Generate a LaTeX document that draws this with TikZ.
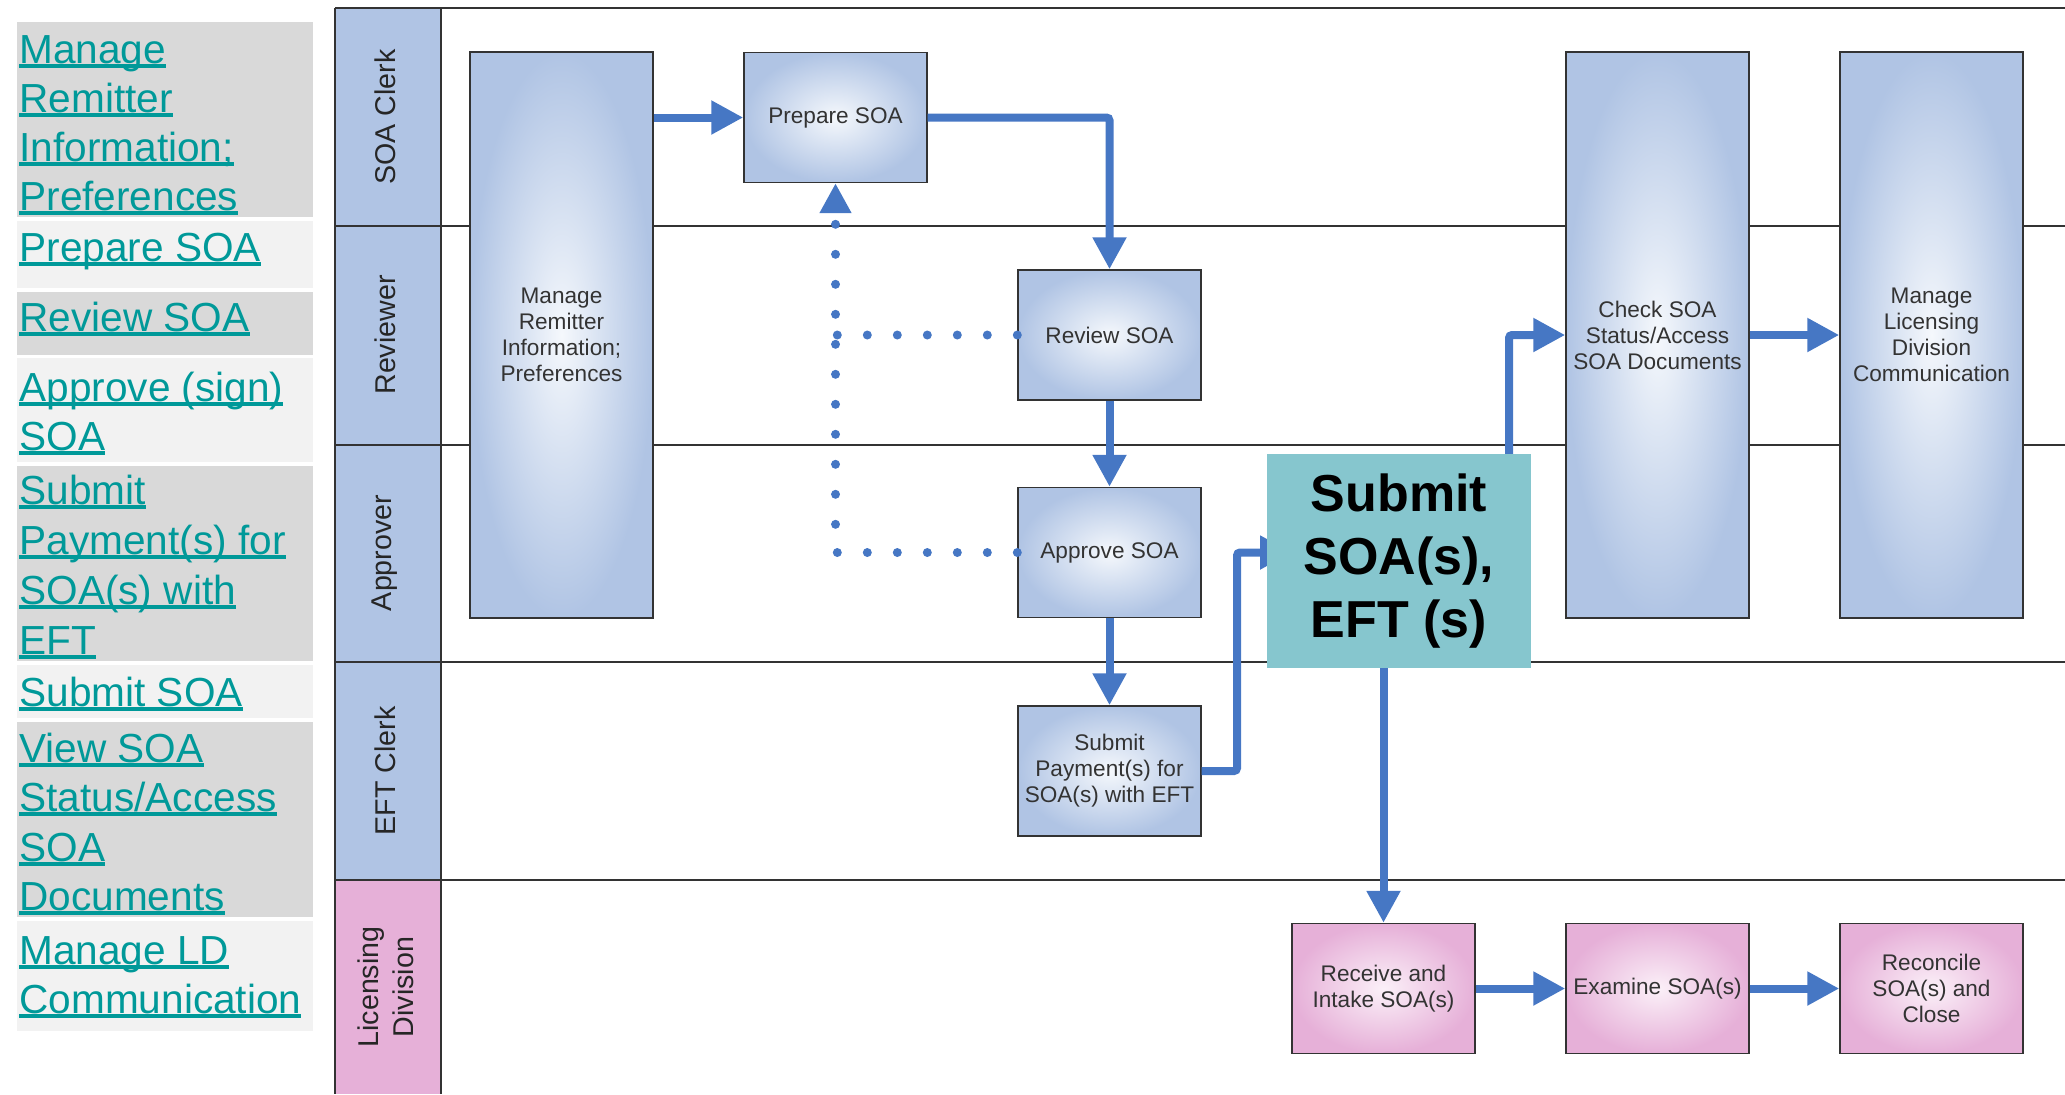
\documentclass[tikz,border=0pt]{standalone}
\usepackage{fontspec}
\setmainfont{Liberation Sans}
\usetikzlibrary{arrows.meta}
\newcommand\ulk[1]{\leavevmode\setbox0=\hbox{#1}\rlap{\rule[-2.4pt]{\wd0}{1.9pt}}\box0}
\definecolor{rowdark}{HTML}{D9D9D9}
\definecolor{rowlight}{HTML}{F2F2F2}
\definecolor{linkc}{HTML}{009999}
\definecolor{hdrblue}{HTML}{B0C4E4}
\definecolor{hdrpink}{HTML}{E6B0D8}
\definecolor{blueIn}{HTML}{F5F8FC}
\definecolor{pinkIn}{HTML}{FBF0F8}
\definecolor{flowblue}{HTML}{4677C4}
\definecolor{tealc}{HTML}{86C6CE}
\definecolor{boxtext}{HTML}{333333}
\tikzset{
  link/.style={anchor=base west, inner sep=0pt, text=linkc, font=\fontsize{20.3}{24.5}\selectfont},
  lanelabel/.style={rotate=90, inner sep=0pt, align=center, text=black!85, font=\fontsize{14.3}{17.5}\selectfont},
  proc/.style={draw=black!80, line width=0.7pt, minimum width=91.5pt, minimum height=65pt, inner sep=1pt, align=center, text=boxtext, font=\fontsize{11.3}{13}\selectfont},
  blueproc/.style={proc, inner color=blueIn, outer color=hdrblue},
  pinkproc/.style={proc, inner color=pinkIn, outer color=hdrpink},
  tallproc/.style={blueproc, minimum height=283pt},
  flow/.style={draw=flowblue, line width=4pt, rounded corners=1.5pt, -{Triangle[length=16pt,width=16pt]}},
  dotflow/.style={draw=flowblue, line width=4.5pt, line cap=round, dash pattern=on 0pt off 15pt, -{Triangle[length=15pt,width=15pt]}},
  laneline/.style={draw=black!80, line width=1.1pt},
}
\begin{document}
\begin{tikzpicture}[x=0.5pt, y=-0.5pt]
\useasboundingbox (0,0) rectangle (2065,1094);
% left panel rows
\fill[rowdark]  (17,22)  rectangle (313,217);
\fill[rowlight] (17,221) rectangle (313,288);
\fill[rowdark]  (17,292) rectangle (313,355);
\fill[rowlight] (17,358) rectangle (313,462);
\fill[rowdark]  (17,466) rectangle (313,661);
\fill[rowlight] (17,665) rectangle (313,718);
\fill[rowdark]  (17,722) rectangle (313,917);
\fill[rowlight] (17,921) rectangle (313,1031);
% left panel links
\node[link] (t1a) at (19,63)  {\ulk{Manage}};
\node[link] (t1b) at (19,112) {\ulk{Remitter}};
\node[link] (t1c) at (19,161) {\ulk{Information;}};
\node[link] (t1d) at (19,210) {\ulk{Preferences}};
\node[link] (t2a) at (19,261) {\ulk{Prepare SOA}};
\node[link] (t3a) at (19,331) {\ulk{Review SOA}};
\node[link] (t4a) at (19,401) {\ulk{Approve (sign)}};
\node[link] (t4b) at (19,450) {\ulk{SOA}};
\node[link] (t5a) at (19,504) {\ulk{Submit}};
\node[link] (t5b) at (19,554) {\ulk{Payment(s) for}};
\node[link] (t5c) at (19,604) {\ulk{SOA(s) with}};
\node[link] (t5d) at (19,654) {\ulk{EFT}};
\node[link] (t6a) at (19,706) {\ulk{Submit SOA}};
\node[link] (t7a) at (19,762) {\ulk{View SOA}};
\node[link] (t7b) at (19,811) {\ulk{Status/Access}};
\node[link] (t7c) at (19,861) {\ulk{SOA}};
\node[link] (t7d) at (19,910) {\ulk{Documents}};
\node[link] (t8a) at (19,964) {\ulk{Manage LD}};
\node[link] (t8b) at (19,1013) {\ulk{Communication}};
% lane headers
\fill[hdrblue] (335,8)   rectangle (441,226);
\fill[hdrblue] (335,226) rectangle (441,445);
\fill[hdrblue] (335,445) rectangle (441,662);
\fill[hdrblue] (335,662) rectangle (441,880);
\fill[hdrpink] (335,880) rectangle (441,1094);
\foreach \yy in {8,226,445,662,880} { \draw[laneline] (335,\yy) -- (2065,\yy); }
\draw[laneline] (335,8) -- (335,1094);
\draw[laneline] (441,8) -- (441,1094);
\node[lanelabel] (lsoa) at (385,117) {SOA Clerk};
\node[lanelabel] (lrev) at (385,335) {Reviewer};
\node[lanelabel] (lapp) at (385,553) {Approver};
\node[lanelabel] (left) at (385,771) {EFT Clerk};
\node[lanelabel] (llic) at (386,987) {Licensing\\Division};
% process boxes
\node[tallproc] (mri) at (561.5,335) {Manage\\Remitter\\Information;\\Preferences};
\node[blueproc] (prep) at (835.5,117.5) {Prepare SOA};
\node[blueproc] (rev) at (1109.5,335) {Review SOA};
\node[blueproc] (appr) at (1109.5,552.5) {Approve SOA};
\node[blueproc] (pay) at (1109.5,771) {Submit\\Payment(s) for\\SOA(s) with EFT};
\node[tallproc] (check) at (1657.5,335) {Check SOA\\Status/Access\\SOA Documents};
\node[tallproc] (mld) at (1931.5,335) {Manage\\Licensing\\Division\\Communication};
\node[pinkproc] (recv) at (1383.5,988.5) {Receive and\\Intake SOA(s)};
\node[pinkproc] (exam) at (1657.5,988.5) {Examine SOA(s)};
\node[pinkproc] (recon) at (1931.5,988.5) {Reconcile\\SOA(s) and\\Close};
% points of the step under the overlay
\coordinate (hidW) at (1292,552.5);
\coordinate (hidE) at (1475,552.5);
\coordinate (hidS) at (1383.5,618);
\coordinate (jp) at (1237,771);
\coordinate (jc) at (1509,552.5);
% connectors
\draw[flow] (mri.east |- prep.west) -- (prep.west);
\draw[flow] (prep.east) -| (rev.north);
\draw[flow] (rev.south) -- (appr.north);
\draw[flow] (appr.south) -- (pay.north);
\draw[flow] (pay.east) -- (jp) |- (hidW);
\draw[flow] (hidE) -- (jc) |- (check.west);
\draw[flow] (hidS) -- (recv.north);
\draw[flow] (check.east) -- (mld.west);
\draw[flow] (recv.east) -- (exam.west);
\draw[flow] (exam.east) -- (recon.west);
\draw[dotflow] (appr.west) -| (prep.south);
\draw[dotflow, -] (rev.west) -- (rev.west -| prep.south);
% overlay
\node[fill=tealc, minimum width=132pt, minimum height=107pt, inner sep=0pt, align=center, font=\fontsize{26}{31.5}\selectfont\bfseries] (teal) at (1399,561) {Submit\\SOA(s),\\EFT (s)};
\end{tikzpicture}
\end{document}
